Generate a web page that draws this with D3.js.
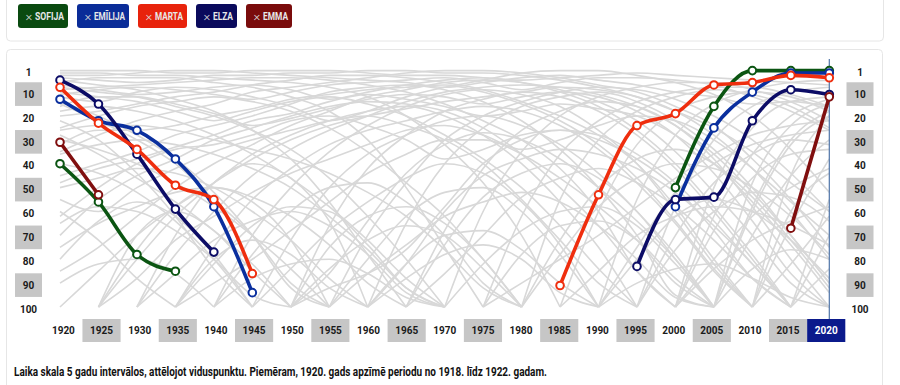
<!DOCTYPE html>
<html><head><meta charset="utf-8">
<script src="https://cdn.jsdelivr.net/npm/d3@7"></script>
<style>
html,body{margin:0;padding:0;background:#fff;}
svg{display:block;font-family:Roboto,"Noto Sans",sans-serif;}
</style></head>
<body><svg id="c" width="900" height="385"></svg>
<script>
const N = null;
const years = [1920,1925,1930,1935,1940,1945,1950,1955,1960,1965,1970,1975,1980,1985,1990,1995,2000,2005,2010,2015,2020];
const rankTicks = [1,10,20,30,40,50,60,70,80,90,100];
const names = ["SOFIJA","EMĪLIJA","MARTA","ELZA","EMMA"];
const sofija  = [40,56,78,85,N,N,N,N,N,N,N,N,N,N,N,N,50,16,1,1,1];
const emilija = [13,22,26,38,58,94,N,N,N,N,N,N,N,N,N,N,58,25,10,2,2];
const marta   = [8,23,34,49,55,86,N,N,N,N,N,N,N,91,53,24,19,7,6,3,4];
const elza    = [5,15,36,59,77,N,N,N,N,N,N,N,N,N,N,83,55,54,22,9,11];
const emma    = [31,53,N,N,N,N,N,N,N,N,N,N,N,N,N,N,N,N,N,67,12];
const nameColors   = ["#0b5512","#0a2f9e","#ef2e0e","#0c0c66","#800f0f"];
const buttonColors = ["#0a4a10","#0a2c98","#e8230c","#0a0a5c","#7a0c0c"];

// background (grey) names, ranks per period
const others = [
[1,1,1,2,2,1,1,1,2,3,3,4,5,4,3,2,3,4,5,6,7],
[3,3,2,1,1,2,3,4,5,6,8,6,4,3,5,7,10,12,15,14,16],
[4,5,6,5,3,3,2,2,1,1,2,2,3,5,8,12,18,25,35,48,60],
[6,4,4,4,6,8,12,18,30,50,75,100,N,N,N,N,N,N,N,N,N],
[2,2,3,3,4,5,6,8,12,20,32,48,70,100,N,N,N,N,N,N,N],
[9,8,7,6,5,4,4,5,7,10,15,22,30,42,60,85,100,N,N,N,N],
[12,14,10,8,9,12,16,22,18,12,8,5,2,1,1,3,6,11,20,34,52],
[20,18,15,12,10,7,5,3,3,4,6,9,14,20,28,40,58,80,100,N,N],
[15,22,30,40,55,70,90,100,N,N,N,N,N,N,N,N,N,N,N,N,N],
[25,20,16,14,12,14,18,25,35,48,62,80,100,N,N,N,N,N,N,N,N],
[35,28,22,18,15,10,8,6,4,2,1,1,2,4,7,10,16,24,38,55,75],
[45,40,35,28,24,20,15,10,8,7,9,14,22,34,50,70,95,100,N,N,N],
[55,60,50,42,35,30,26,22,20,24,30,40,55,72,90,100,N,N,N,N,N],
[70,55,45,38,30,25,20,16,14,15,18,25,36,50,66,85,100,N,N,N,N],
[85,75,62,50,40,32,24,18,12,9,6,5,6,9,14,22,35,52,70,90,100],
[100,85,70,58,48,38,30,24,20,17,14,12,10,8,9,12,18,28,42,60,80],
[N,100,80,62,48,36,28,22,18,16,20,28,40,56,75,100,N,N,N,N,N],
[N,N,100,78,60,45,34,26,20,14,10,8,7,8,11,16,24,36,52,70,90],
[N,N,N,100,75,55,42,32,26,22,18,16,18,24,34,48,65,85,100,N,N],
[N,N,N,N,100,70,50,35,24,16,11,9,11,16,26,40,60,82,100,N,N],
[N,N,N,N,N,100,72,50,36,28,22,20,24,32,44,60,78,100,N,N,N],
[N,N,N,N,N,N,100,66,42,28,18,13,10,12,18,28,42,60,80,100,N],
[N,N,N,N,N,N,N,100,70,48,30,20,14,10,8,9,13,20,30,44,60],
[N,N,N,N,N,N,N,N,100,65,40,25,16,12,10,14,22,34,50,70,90],
[N,N,N,N,N,N,N,N,N,100,68,42,26,18,14,16,24,38,58,80,100],
[N,N,N,N,N,N,N,N,N,N,100,60,35,20,12,8,6,6,9,14,22],
[N,N,N,N,N,N,N,N,N,N,N,100,62,36,22,14,10,8,8,11,16],
[N,N,N,N,N,N,N,N,N,N,N,N,100,55,30,18,12,9,11,16,25],
[N,N,N,N,N,N,N,N,N,N,N,N,N,100,60,32,18,12,10,12,18],
[N,N,N,N,N,N,N,N,N,N,N,N,N,N,100,55,28,15,9,6,5],
[N,N,N,N,N,N,N,N,N,N,N,N,N,N,N,100,58,30,16,10,8],
[N,N,N,N,N,N,N,N,N,N,N,N,N,N,N,N,100,50,25,14,12],
[N,N,N,N,N,N,N,N,N,N,N,N,N,N,N,N,N,100,48,24,15],
[N,N,N,N,N,N,N,N,N,N,N,N,N,N,N,N,N,N,100,45,20],
[60,72,88,100,N,N,N,N,N,N,N,N,N,N,N,N,N,N,N,N,N],
[N,100,70,60,68,85,100,N,N,N,N,N,N,N,N,N,N,N,N,N,N],
[N,N,N,100,80,72,78,92,100,N,N,N,N,N,N,N,N,N,N,N,N],
[N,N,N,N,N,N,100,75,62,58,65,80,100,N,N,N,N,N,N,N,N],
[N,N,N,N,N,N,N,N,N,N,N,100,78,66,64,72,88,100,N,N,N],
[N,N,N,N,N,N,N,N,100,82,70,68,76,90,100,N,N,N,N,N,N],
[N,N,N,N,N,N,N,N,N,N,N,N,N,N,100,80,62,55,60,72,88],
[75,65,58,52,50,54,62,74,90,100,N,N,N,N,N,N,N,N,N,N,N],
[50,46,42,44,50,60,72,88,100,N,N,N,N,N,N,N,N,N,N,N,N],
[40,44,52,64,80,100,N,N,N,N,N,N,N,N,N,N,N,N,N,N,N],
[30,34,40,48,58,70,84,100,N,N,N,N,N,N,N,N,N,N,N,N,N],
[18,16,18,22,28,36,46,58,72,88,100,N,N,N,N,N,N,N,N,N,N],
[65,58,60,68,80,95,100,N,N,N,N,N,N,N,N,N,N,N,N,N,N],
[N,N,N,N,N,N,N,N,100,82,60,45,38,34,36,42,52,66,82,100,N],
[N,N,N,N,N,N,N,N,N,N,N,N,N,N,N,N,N,100,70,45,30],
[N,N,N,N,N,N,N,N,N,N,N,N,N,N,100,75,52,40,32,28,26],
[N,N,N,N,N,N,N,N,N,N,N,N,N,N,N,N,100,80,62,50,42],
[N,N,N,N,N,N,N,N,N,N,N,N,100,78,58,46,40,42,50,62,78],
[8,10,12,16,20,26,34,46,62,80,100,N,N,N,N,N,N,N,N,N,N],
[10,12,14,18,22,18,14,12,15,20,28,38,50,66,84,100,N,N,N,N,N],
[N,N,N,N,N,N,N,N,N,N,N,N,N,100,85,70,62,58,60,66,74],
[N,N,N,N,N,N,N,N,N,N,N,N,N,N,N,N,N,N,N,100,55],
[N,N,N,N,N,N,N,N,N,N,N,N,N,N,N,N,N,N,100,66,38],
[80,64,56,62,78,100,N,N,N,N,N,N,N,N,N,N,N,N,N,N,N],
[N,100,76,58,50,56,72,100,N,N,N,N,N,N,N,N,N,N,N,N,N],
[N,N,100,70,48,40,46,64,100,N,N,N,N,N,N,N,N,N,N,N,N],
[N,N,N,100,82,66,58,60,74,92,100,N,N,N,N,N,N,N,N,N,N],
[N,N,N,N,100,78,60,50,48,56,70,90,100,N,N,N,N,N,N,N,N],
[N,N,N,N,N,100,84,68,56,46,40,44,56,74,100,N,N,N,N,N,N],
[N,N,N,N,N,N,N,100,80,62,52,50,60,78,100,N,N,N,N,N,N],
[N,N,N,N,N,N,N,N,N,100,74,54,44,40,46,60,80,100,N,N,N],
[N,N,N,N,N,N,N,N,N,N,N,N,100,72,50,38,34,40,54,72,92],
[N,N,N,N,N,N,N,N,N,N,N,N,N,N,N,100,76,60,52,54,64],
[90,82,80,86,100,N,N,N,N,N,N,N,N,N,N,N,N,N,N,N,N],
[N,N,N,N,N,N,N,N,100,88,78,74,80,94,100,N,N,N,N,N,N],
[N,N,N,N,N,N,N,N,N,N,N,N,N,N,N,N,N,100,84,76,80],
[28,36,46,56,68,82,100,N,N,N,N,N,N,N,N,N,N,N,N,N,N],
[N,N,100,86,72,64,60,66,78,94,100,N,N,N,N,N,N,N,N,N,N],
[N,N,N,N,N,N,N,N,N,N,N,N,N,N,N,N,N,N,N,100,70],
[N,N,N,N,N,N,N,N,N,N,N,N,N,N,N,N,100,68,46,36,34],
[N,N,N,N,N,N,N,N,N,N,N,N,N,N,N,100,70,48,36,30,32],
[N,N,N,N,N,N,N,N,N,N,N,N,N,N,N,N,N,N,100,60,44],
[22,30,44,62,84,100,N,N,N,N,N,N,N,N,N,N,N,100,60,32,20],
[14,20,28,38,52,70,92,100,N,N,N,N,N,N,N,N,100,62,36,20,13],
[5,7,9,13,18,26,38,56,78,100,N,N,N,N,N,N,N,100,58,30,18],
[N,N,N,N,N,N,100,84,72,66,70,84,100,N,N,N,N,N,N,N,N],
[N,N,N,N,N,N,N,N,N,N,100,82,68,60,58,66,82,100,N,N,N],
[7,9,11,10,8,7,9,13,10,7,5,4,6,10,16,26,40,58,78,100,N],
[11,9,8,9,11,13,10,7,6,5,4,6,9,6,4,4,5,7,12,18,26],
[16,12,12,15,19,24,21,17,13,11,12,15,12,10,12,18,28,44,64,86,100],
[32,26,26,24,20,17,13,11,9,8,7,10,15,22,32,46,64,84,100,N,N],
[48,42,38,33,28,22,19,14,11,13,16,20,18,15,17,20,28,40,56,74,94],
[62,50,40,34,32,28,22,20,24,30,38,34,28,26,30,38,50,68,88,100,N],
[N,100,88,72,62,52,44,38,32,26,24,28,34,30,24,20,22,30,42,56,70],
[N,N,N,N,N,N,100,86,64,44,32,27,30,38,50,64,80,100,N,N,N],
[N,N,N,N,N,N,N,N,N,100,86,70,54,46,42,48,58,72,88,100,N],
[N,N,N,N,N,N,100,92,86,76,58,40,30,26,28,36,48,64,82,100,N],
[N,N,N,100,90,80,68,56,44,36,30,30,36,46,58,72,90,100,N,N,N],
[36,32,30,32,36,42,50,62,76,92,100,N,N,N,N,N,N,N,N,N,N],
[N,N,N,N,N,N,N,N,N,N,N,N,N,N,N,N,100,84,72,64,58],
[N,N,N,N,N,N,N,N,N,N,N,100,90,80,70,58,46,36,28,24,22],
[N,N,N,N,N,N,N,N,N,N,N,N,N,N,N,N,N,N,100,82,62],
[N,N,N,N,N,N,N,100,86,74,62,56,52,56,66,80,96,100,N,N,N],
[N,N,N,N,100,88,82,80,86,96,100,N,N,N,N,N,N,N,N,N,N],
[N,N,N,N,N,N,N,N,N,N,N,N,N,N,N,N,N,N,N,100,84],
[N,N,N,N,N,N,N,N,N,N,N,N,N,N,100,90,84,82,88,96,100],
[26,24,24,26,30,34,38,44,52,62,76,92,100,N,N,N,N,N,N,N,N]
];

const footer = "Laika skala 5 gadu intervālos, attēlojot viduspunktu. Piemēram, 1920. gads apzīmē periodu no 1918. līdz 1922. gadam.";

const svg = d3.select("#c");

// cards
svg.append("rect").attr("x",6.5).attr("y",-10).attr("width",877).attr("height",51)
  .attr("rx",4).attr("fill","#fff").attr("stroke","#e6e6e6");
svg.append("rect").attr("x",6.5).attr("y",49.5).attr("width",876).attr("height",400)
  .attr("rx",4).attr("fill","#fff").attr("stroke","#e6e6e6");

// buttons (layout)
const btnX = [18,77,138,196,246], btnW = [50,52,49,41,46];
names.forEach((n, i) => {
  const g = svg.append("g");
  g.append("rect").attr("x",btnX[i]).attr("y",4).attr("width",btnW[i]).attr("height",24).attr("rx",3).attr("fill",buttonColors[i]);
  g.append("text").attr("x",btnX[i]+7.5).attr("y",20.5).attr("fill","#dcdcdc")
    .attr("font-size",13).attr("font-weight",300).text("×");
  g.append("text").attr("x",btnX[i]+17).attr("y",20).attr("fill","#e8e8e8")
    .attr("font-size",10.5).attr("font-weight",700)
    .attr("textLength",btnW[i]-21).attr("lengthAdjust","spacingAndGlyphs").text(n);
});

// scales
const x = d3.scalePoint().domain(years).range([60, 829.3]);
const xb = d3.scaleBand().domain(years).range([44.3, 845.3]);
const y = d3.scaleLinear().domain([1, 100]).range([70.6, 307]);

const line = d3.line()
  .defined(d => d != null)
  .x((d, i) => x(years[i]))
  .y(d => y(d))
  .curve(d3.curveMonotoneX);

// grey lines
svg.append("g").selectAll("path").data(others).join("path")
  .attr("d", line).attr("fill","none").attr("stroke","#d8d8d8").attr("stroke-width",1.6);

// x axis labels with bands
const xAxisG = svg.append("g").attr("transform","translate(0,319)");
xAxisG.selectAll("rect").data(years.filter((d,i)=>i%2===1 || d===2020)).join("rect")
  .attr("x", d => xb(d)).attr("y",0).attr("width", xb.bandwidth()).attr("height",23)
  .attr("fill", d => d===2020 ? "#0b1a8c" : "#c6c6c6");
const xa = xAxisG.append("g")
  .call(d3.axisBottom(xb).tickSize(0).tickPadding(0));
xa.select(".domain").remove();
xa.selectAll("text").attr("y",11.5).attr("dy","0.35em").attr("font-size",10).attr("font-weight",700)
  .attr("font-family","Roboto, sans-serif")
  .attr("fill", d => d===2020 ? "#fff" : "#1a1a1a");

// vertical 2020 line
svg.append("line").attr("x1",x(2020)).attr("x2",x(2020)).attr("y1",59).attr("y2",319)
  .attr("stroke","#4f74a8").attr("stroke-width",1.2);

// y axes labels
function yLabels(cx) {
  const g = svg.append("g");
  const step = (y(100) - y(1)) / 10;
  g.selectAll("rect").data(rankTicks.filter((d,i)=>i%2===1)).join("rect")
    .attr("x", cx - 13.5).attr("width", 27)
    .attr("y", d => y(d) + 2 - step/2).attr("height", step)
    .attr("fill","#c6c6c6");
  const ax = g.append("g").attr("transform",`translate(${cx},2)`)
    .call(d3.axisLeft(y).tickValues(rankTicks).tickSize(0).tickPadding(0));
  ax.select(".domain").remove();
  ax.selectAll("text").attr("x",0).attr("text-anchor","middle").attr("font-size",10).attr("font-weight",700)
    .attr("font-family","Roboto, sans-serif").attr("fill","#1a1a1a");
}
yLabels(28.5);
yLabels(860);

// coloured series
const series = [sofija, emilija, elza, marta, emma];
const seriesColor = [nameColors[0], nameColors[1], nameColors[3], nameColors[2], nameColors[4]];
series.forEach((s, k) => {
  const g = svg.append("g");
  g.append("path").attr("d", line(s)).attr("fill","none").attr("stroke",seriesColor[k])
    .attr("stroke-width",3.6).attr("stroke-linejoin","round").attr("stroke-linecap","round");
  g.selectAll("circle").data(s.map((v,i)=>({v,i})).filter(d=>d.v!=null)).join("circle")
    .attr("cx", d => x(years[d.i])).attr("cy", d => y(d.v)).attr("r",3.8)
    .attr("fill","#fff").attr("stroke",seriesColor[k]).attr("stroke-width",2);
});

// footer
svg.append("text").attr("x",14).attr("y",376).attr("font-size",12).attr("font-weight",700)
  .attr("fill","#111").attr("textLength",533).attr("lengthAdjust","spacingAndGlyphs").text(footer);
</script></body></html>
